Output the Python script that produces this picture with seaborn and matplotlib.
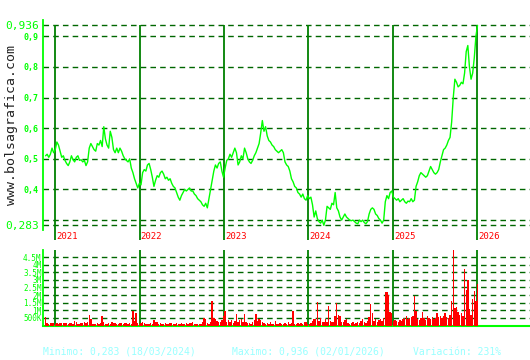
import matplotlib
matplotlib.use('Agg')
import matplotlib.pyplot as plt
import numpy as np
import pandas as pd
import seaborn as sns

# ---------------- data ----------------
dates = pd.date_range('2020-11-20', '2026-01-02', freq='W-FRI')

price = [
    0.51, 0.515, 0.505, 0.515, 0.535, 0.52, 0.53, 0.555, 0.545, 0.525,
    0.505, 0.51, 0.495, 0.485, 0.478, 0.49, 0.51, 0.497, 0.49, 0.505,
    0.51, 0.495, 0.497, 0.49, 0.495, 0.478, 0.49, 0.535, 0.55, 0.54,
    0.53, 0.525, 0.55, 0.545, 0.56, 0.54, 0.605, 0.565, 0.545, 0.535,
    0.59, 0.57, 0.53, 0.52, 0.535, 0.52, 0.535, 0.525, 0.51, 0.50,
    0.495, 0.49, 0.50, 0.47, 0.455, 0.435, 0.42, 0.405, 0.42, 0.415,
    0.455, 0.465, 0.46, 0.48, 0.485, 0.465, 0.44, 0.41, 0.43, 0.445,
    0.44, 0.455, 0.46, 0.45, 0.435, 0.44, 0.43, 0.435, 0.42, 0.41,
    0.405, 0.39, 0.375, 0.365, 0.38, 0.39, 0.40, 0.395, 0.40, 0.405,
    0.395, 0.395, 0.385, 0.38, 0.37, 0.365, 0.36, 0.35, 0.345, 0.355,
    0.34, 0.37, 0.40, 0.43, 0.46, 0.48, 0.47, 0.485, 0.49, 0.46,
    0.44, 0.47, 0.495, 0.50, 0.515, 0.505, 0.52, 0.535, 0.52, 0.48,
    0.49, 0.51, 0.50, 0.535, 0.52, 0.50, 0.49, 0.485, 0.495, 0.51,
    0.52, 0.535, 0.55, 0.585, 0.625, 0.59, 0.605, 0.575, 0.56, 0.555,
    0.545, 0.54, 0.53, 0.525, 0.52, 0.525, 0.53, 0.52, 0.49, 0.48,
    0.475, 0.46, 0.435, 0.425, 0.41, 0.405, 0.39, 0.385, 0.375, 0.385,
    0.37, 0.365, 0.38, 0.37, 0.375, 0.35, 0.31, 0.33, 0.305, 0.295,
    0.29, 0.30, 0.283, 0.30, 0.345, 0.34, 0.335, 0.355, 0.35, 0.39,
    0.34, 0.33, 0.31, 0.30, 0.31, 0.32, 0.31, 0.305, 0.30, 0.298,
    0.30, 0.295, 0.29, 0.288, 0.30, 0.295, 0.30, 0.292, 0.288, 0.295,
    0.32, 0.335, 0.34, 0.335, 0.32, 0.315, 0.305, 0.30, 0.29, 0.30,
    0.36, 0.38, 0.37, 0.39, 0.395, 0.375, 0.37, 0.365, 0.37, 0.36,
    0.365, 0.37, 0.36, 0.355, 0.362, 0.36, 0.37, 0.36, 0.365, 0.41,
    0.425, 0.445, 0.455, 0.45, 0.445, 0.44, 0.445, 0.46, 0.475, 0.465,
    0.455, 0.45, 0.455, 0.465, 0.49, 0.51, 0.53, 0.535, 0.545, 0.56,
    0.57, 0.62, 0.70, 0.76, 0.75, 0.735, 0.74, 0.75, 0.745, 0.78,
    0.85, 0.87, 0.80, 0.76, 0.78, 0.83, 0.90, 0.936,
]

volume_k = [
    560, 150, 120, 180, 140, 170, 100, 160, 130, 170,
    150, 180, 140, 160, 120, 170, 150, 130, 280, 200,
    120, 90, 150, 170, 220, 140, 200, 720, 450, 100,
    80, 130, 160, 120, 180, 650, 200, 90, 110, 150,
    100, 250, 180, 140, 90, 130, 160, 150, 120, 170,
    140, 100, 160, 130, 980, 300, 820, 150, 120, 140,
    250, 160, 130, 120, 110, 150, 130, 350, 200, 250,
    130, 160, 100, 120, 150, 130, 110, 140, 160, 120,
    130, 150, 100, 120, 140, 110, 130, 150, 120, 140,
    150, 260, 120, 100, 130, 90, 110, 200, 500, 450,
    150, 120, 250, 1630, 500, 400, 300, 250, 200, 350,
    600, 980, 250, 350, 200, 350, 150, 300, 760, 200,
    350, 430, 200, 780, 250, 150, 180, 120, 200, 350,
    780, 300, 450, 350, 250, 150, 120, 150, 100, 200,
    100, 120, 300, 130, 100, 150, 120, 100, 150, 130,
    200, 120, 180, 930, 120, 100, 150, 130, 150, 120,
    200, 250, 120, 100, 150, 300, 400, 450, 1540, 300,
    500, 250, 200, 400, 250, 1300, 300, 250, 200, 600,
    1480, 700, 650, 250, 200, 350, 400, 150, 100, 150,
    200, 100, 150, 250, 150, 300, 400, 200, 150, 300,
    550, 1430, 820, 300, 400, 250, 350, 400, 300, 500,
    2200, 2200, 2000, 900, 820, 300, 350, 300, 250, 350,
    300, 400, 500, 600, 450, 500, 550, 600, 1950, 930,
    400, 350, 500, 900, 500, 350, 600, 500, 400, 550,
    400, 500, 800, 550, 600, 500, 650, 800, 550, 500,
    700, 1630, 4960, 1150, 1200, 900, 700, 800, 650, 3700,
    2350, 3000, 1100, 700, 1750, 2250, 1600, 2700,
]

price_ticks = [0.283, 0.3, 0.4, 0.5, 0.6, 0.7, 0.8, 0.9, 0.936]
price_labels = ['0,283', '', '0,4', '0,5', '0,6', '0,7', '0,8', '0,9', '0,936']
vol_ticks = [0.5e6, 1e6, 1.5e6, 2e6, 2.5e6, 3e6, 3.5e6, 4e6, 4.5e6]
vol_labels = ['500K', '1M', '1.5M', '2M', '2.5M', '3M', '3.5M', '4M', '4.5M']
years = ['2021', '2022', '2023', '2024', '2025', '2026']
stat_texts = ['Minimo: 0,283 (18/03/2024)', 'Maximo: 0,936 (02/01/2026)', 'Variación: 231%']
watermark = 'www.bolsagrafica.com'

n = min(len(dates), len(price), len(volume_k))
df = pd.DataFrame({'date': dates[:n], 'price': price[:n],
                   'volume': np.array(volume_k[:n]) * 1000.0})

# ---------------- style ----------------
sns.set_style('white')
plt.rcParams['font.family'] = ['DejaVu Sans Mono', 'DejaVu Sans']

W, H = 530, 360
fig = plt.figure(figsize=(W / 100, H / 100), dpi=100)
fig.patch.set_facecolor('white')


def rect(x0, y0, x1, y1):
    return [x0 / W, 1 - y1 / H, (x1 - x0) / W, (y1 - y0) / H]


ax = fig.add_axes(rect(43, 20, 530, 242))
axv = fig.add_axes(rect(43, 250, 530, 325.5))

xmin = pd.Timestamp('2020-11-09')
xmax = pd.Timestamp('2026-08-17')
year_dates = [pd.Timestamp(y + '-01-01') for y in years]

GRID = '#006600'
YEARC = '#008000'
LIME = '#00ff00'
dash = (0, (4, 3))

# ---------------- price panel ----------------
ytop, ybot = 0.9533, 0.2285
ax.set_xlim(xmin, xmax)
ax.set_ylim(ybot, ytop)
for v in price_ticks:
    ax.axhline(v, color=GRID, lw=1.0, ls=dash, zorder=1)
ax.vlines(year_dates, 0.235, 0.936, color=YEARC, lw=1.3, zorder=2)
sns.lineplot(data=df, x='date', y='price', ax=ax, color=LIME, lw=1.0,
             zorder=3, legend=False)
for d, y in zip(year_dates, years):
    ax.text(d + pd.Timedelta(days=5), 0.2385, y, color='red', fontsize=6.5,
            ha='left', va='baseline', zorder=4)

ax.set_xticks([])
ax.set_xlabel('')
ax.set_ylabel('')
ax.set_yticks(price_ticks)
ax.set_yticklabels(price_labels)
ax.tick_params(axis='y', length=0, pad=3, labelcolor=LIME)
for lab in ax.get_yticklabels():
    if lab.get_text() in ('0,936', '0,283'):
        lab.set_fontsize(8)
    else:
        lab.set_fontsize(6)
        lab.set_fontweight('bold')
for s in ['top', 'right', 'bottom']:
    ax.spines[s].set_visible(False)
ax.spines['left'].set_color(LIME)
ax.spines['left'].set_linewidth(1.3)
ax.spines['left'].set_bounds(0.2677, ytop)
ax.set_facecolor('white')

# ---------------- volume panel ----------------
axv.set_xlim(xmin, xmax)
axv.set_ylim(0, 4.96e6)
for v in vol_ticks:
    axv.axhline(v, color=GRID, lw=1.0, ls=dash, zorder=1)
axv.vlines(year_dates, 0, 4.96e6, color=YEARC, lw=1.3, zorder=2)
axv.bar(df['date'], df['volume'], width=6, color='red', linewidth=0, zorder=3)
axv.set_xticks([])
axv.set_xlabel('')
axv.set_ylabel('')
axv.set_yticks(vol_ticks)
axv.set_yticklabels(vol_labels)
axv.tick_params(axis='y', length=0, pad=1, labelcolor=LIME, labelsize=5.5)
for s in ['top', 'right']:
    axv.spines[s].set_visible(False)
axv.spines['left'].set_color(LIME)
axv.spines['left'].set_linewidth(1.3)
axv.spines['bottom'].set_color(LIME)
axv.spines['bottom'].set_linewidth(1.5)
axv.set_facecolor('white')

# ---------------- texts ----------------
fig.text(12 / W, 1 - 125 / H, watermark, rotation=90, ha='center', va='center',
         fontsize=9.5, color='#222222')
for x0, t in zip([43, 232, 413], stat_texts):
    fig.text(x0 / W, 1 - 352 / H, t, ha='left', va='center', fontsize=7,
             color='#99ffff')

fig.savefig('out.png', dpi=100, facecolor='white')
